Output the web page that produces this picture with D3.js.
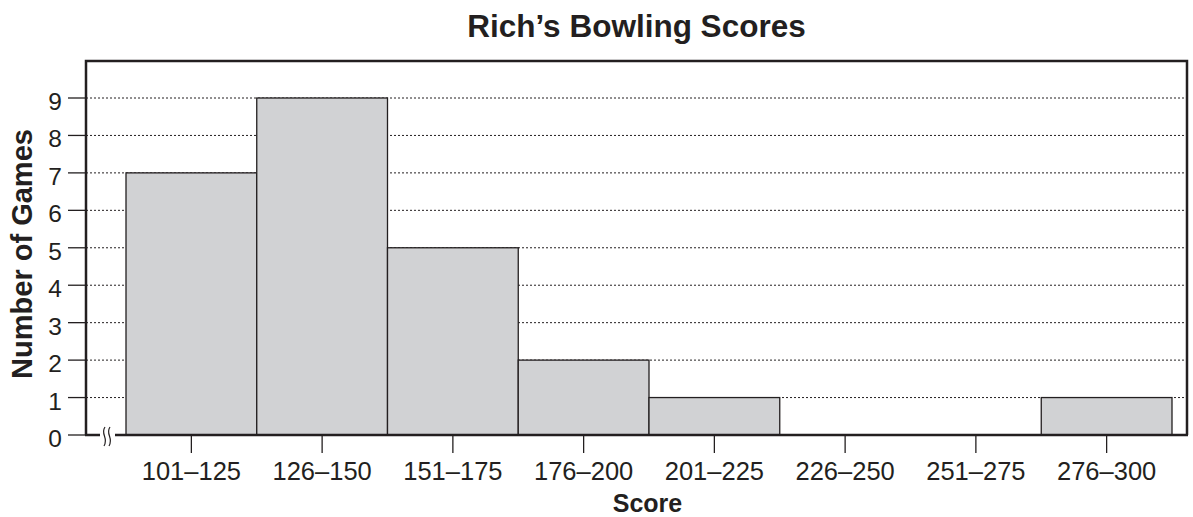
<!DOCTYPE html>
<html>
<head>
<meta charset="utf-8">
<script src="https://cdn.jsdelivr.net/npm/d3@7"></script>
<style>
  body { margin: 0; background: #fff; }
  text { font-family: "Liberation Sans", Arial, Helvetica, sans-serif; fill: #231f20; }
</style>
</head>
<body>
<div id="chart"></div>
<script>
// data
var bins = ["101\u2013125", "126\u2013150", "151\u2013175", "176\u2013200", "201\u2013225", "226\u2013250", "251\u2013275", "276\u2013300"];
var games = [7, 9, 5, 2, 1, 0, 0, 1];
var yTicks = [0, 1, 2, 3, 4, 5, 6, 7, 8, 9];

// frame
var W = 1193, H = 517;
var frame = {left: 86, right: 1187, top: 61, bottom: 435};
var barsLeft = 126, barsRight = 1172;

var svg = d3.select("#chart")
  .append("svg")
    .attr("width", W)
    .attr("height", H);

var x = d3.scaleBand()
  .domain(bins)
  .range([barsLeft, barsRight])
  .padding(0);

var y = d3.scaleLinear()
  .domain([0, 9])
  .range([frame.bottom, 98]);

// gridlines (dotted)
svg.append("g")
  .selectAll("line")
  .data(yTicks.filter(d => d > 0))
  .enter()
  .append("line")
    .attr("x1", frame.left)
    .attr("x2", frame.right)
    .attr("y1", d => y(d))
    .attr("y2", d => y(d))
    .attr("stroke", "#231f20")
    .attr("stroke-width", 1)
    .attr("stroke-dasharray", "2,2");

// bars (skip empty bins)
var barData = bins.map((b, i) => ({bin: b, n: games[i]})).filter(d => d.n > 0);

svg.append("g")
  .selectAll("rect")
  .data(barData)
  .enter()
  .append("rect")
    .attr("x", d => x(d.bin))
    .attr("y", d => y(d.n))
    .attr("width", x.bandwidth())
    .attr("height", d => y(0) - y(d.n))
    .attr("fill", "#d1d2d4")
    .attr("stroke", "#231f20")
    .attr("stroke-width", 1.3);

// frame (top, right, left)
svg.append("path")
  .attr("d", "M" + frame.left + "," + frame.bottom + "V" + frame.top + "H" + frame.right + "V" + frame.bottom)
  .attr("fill", "none")
  .attr("stroke", "#231f20")
  .attr("stroke-width", 2.5);

// bottom axis line with break
svg.append("line")
  .attr("x1", frame.left - 1).attr("x2", 100)
  .attr("y1", frame.bottom).attr("y2", frame.bottom)
  .attr("stroke", "#231f20").attr("stroke-width", 2.5);
svg.append("line")
  .attr("x1", 115).attr("x2", frame.right + 1)
  .attr("y1", frame.bottom).attr("y2", frame.bottom)
  .attr("stroke", "#231f20").attr("stroke-width", 2.5);
[104, 109].forEach(function(bx) {
  svg.append("path")
    .attr("d", "M" + (bx + 1) + "," + (frame.bottom - 8) +
               "C" + (bx - 4) + "," + (frame.bottom - 1) + " " + (bx + 5) + "," + (frame.bottom + 3) + " " + bx + "," + (frame.bottom + 11))
    .attr("fill", "none")
    .attr("stroke", "#231f20")
    .attr("stroke-width", 1.2);
});

// y axis ticks + labels
svg.append("g")
  .selectAll("line")
  .data(yTicks)
  .enter()
  .append("line")
    .attr("x1", 68).attr("x2", frame.left)
    .attr("y1", d => y(d)).attr("y2", d => y(d))
    .attr("stroke", "#231f20").attr("stroke-width", 1.3);

svg.append("g")
  .selectAll("text")
  .data(yTicks)
  .enter()
  .append("text")
    .attr("x", 62)
    .attr("y", d => y(d) + 12)
    .attr("text-anchor", "end")
    .attr("font-size", 24.5)
    .text(d => d);

// x axis ticks + labels
svg.append("g")
  .selectAll("line")
  .data(bins)
  .enter()
  .append("line")
    .attr("x1", d => x(d) + x.bandwidth() / 2)
    .attr("x2", d => x(d) + x.bandwidth() / 2)
    .attr("y1", frame.bottom).attr("y2", frame.bottom + 18)
    .attr("stroke", "#231f20").attr("stroke-width", 1.3);

svg.append("g")
  .selectAll("text")
  .data(bins)
  .enter()
  .append("text")
    .attr("x", d => x(d) + x.bandwidth() / 2)
    .attr("y", 480)
    .attr("text-anchor", "middle")
    .attr("font-size", 25.5)
    .text(d => d);

// axis titles
svg.append("text")
  .attr("x", (frame.left + frame.right) / 2 + 11)
  .attr("y", 512)
  .attr("text-anchor", "middle")
  .attr("font-size", 25)
  .attr("font-weight", "bold")
  .text("Score");

svg.append("text")
  .attr("transform", "translate(32,254) rotate(-90)")
  .attr("text-anchor", "middle")
  .attr("font-size", 29)
  .attr("font-weight", "bold")
  .text("Number of Games");

// title
svg.append("text")
  .attr("x", (frame.left + frame.right) / 2)
  .attr("y", 37)
  .attr("text-anchor", "middle")
  .attr("font-size", 31.5)
  .attr("font-weight", "bold")
  .text("Rich\u2019s Bowling Scores");
</script>
</body>
</html>
